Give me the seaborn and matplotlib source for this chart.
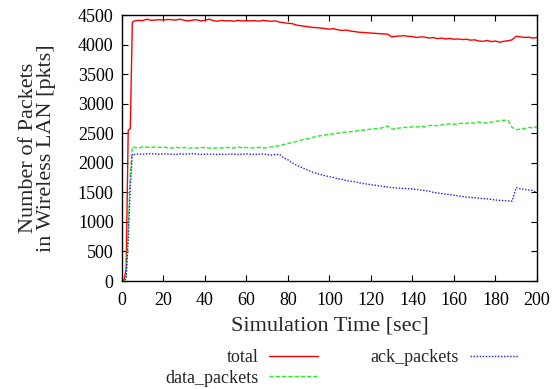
import numpy as np
import pandas as pd
import matplotlib
matplotlib.use("Agg")
import matplotlib.pyplot as plt
import seaborn as sns

# ---------------- data ----------------
time_ramp = [0, 1, 2, 3, 4, 5]
time_main = list(range(6, 201, 2))
times = time_ramp + time_main

total_ramp = [0, 20, 200, 2550, 2580, 4380]
total_main = (
    [4400, 4410, 4405, 4430, 4410, 4415, 4420, 4415]                      # 6-20
    + [4425, 4420, 4415, 4430, 4410, 4400, 4415, 4420, 4400, 4410]        # 22-40
    + [4430, 4405, 4395, 4410, 4400, 4405, 4395, 4410, 4400, 4405]        # 42-60
    + [4400, 4405, 4395, 4410, 4400, 4395, 4400]                          # 62-74
    + [4380, 4370, 4360, 4355, 4330, 4320, 4310, 4300, 4290, 4285, 4280, 4270, 4260]  # 76-100
    + [4270, 4250, 4240, 4245, 4230, 4220, 4210, 4205, 4200, 4195, 4190, 4185, 4180, 4175, 4130]  # 102-130
    + [4140, 4145, 4150, 4140, 4135, 4120, 4130, 4125, 4110, 4120, 4100, 4110, 4095, 4105, 4090]  # 132-160
    + [4095, 4085, 4090, 4075, 4080, 4060, 4055, 4070, 4050, 4060, 4040, 4055, 4065, 4080]        # 162-188
    + [4140, 4130, 4120, 4125, 4110, 4120]                                # 190-200
)

data_ramp = [0, 5, 50, 900, 1800, 2270]
data_main = (
    [2260, 2250, 2270, 2265, 2255, 2270, 2260, 2265]
    + [2255, 2250, 2265, 2250, 2260, 2245, 2255, 2250, 2260, 2255]
    + [2250, 2245, 2255, 2250, 2260, 2255, 2250, 2265, 2255, 2260]
    + [2250, 2255, 2260, 2250, 2255, 2270, 2280]
    + [2290, 2310, 2330, 2340, 2360, 2380, 2400, 2410, 2430, 2450, 2460, 2470, 2480]
    + [2490, 2500, 2510, 2520, 2525, 2530, 2545, 2550, 2560, 2570, 2575, 2580, 2600, 2620, 2570]
    + [2580, 2590, 2600, 2595, 2610, 2605, 2620, 2610, 2630, 2635, 2625, 2640, 2650, 2660, 2650]
    + [2660, 2670, 2665, 2680, 2670, 2690, 2680, 2670, 2690, 2700, 2710, 2720, 2720, 2600]
    + [2560, 2570, 2580, 2600, 2590, 2610]
)

ack_ramp = [0, 5, 40, 700, 1600, 2150]
ack_main = (
    [2140, 2150, 2145, 2150, 2155, 2150, 2145, 2150]
    + [2150, 2145, 2140, 2150, 2145, 2150, 2155, 2150, 2140, 2145]
    + [2150, 2145, 2140, 2145, 2140, 2150, 2145, 2140, 2145, 2150]
    + [2145, 2140, 2145, 2150, 2140, 2130, 2140]
    + [2140, 2080, 2050, 2000, 1960, 1930, 1900, 1870, 1840, 1820, 1800, 1780, 1765]
    + [1750, 1730, 1720, 1700, 1690, 1680, 1665, 1650, 1640, 1630, 1620, 1610, 1600, 1590, 1580]
    + [1575, 1570, 1565, 1560, 1555, 1550, 1540, 1530, 1520, 1500, 1490, 1480, 1470, 1460, 1450]
    + [1440, 1430, 1420, 1415, 1410, 1400, 1395, 1390, 1380, 1370, 1365, 1360, 1355, 1350]
    + [1580, 1560, 1550, 1540, 1530, 1500]
)

total = total_ramp + total_main
data_packets = data_ramp + data_main
ack_packets = ack_ramp + ack_main

x_ticks = [0, 20, 40, 60, 80, 100, 120, 140, 160, 180, 200]
y_ticks = [0, 500, 1000, 1500, 2000, 2500, 3000, 3500, 4000, 4500]

df = pd.DataFrame({"time": times, "total": total,
                   "data_packets": data_packets, "ack_packets": ack_packets})

# ---------------- style ----------------
sns.set_theme(style="ticks")
plt.rcParams["font.family"] = ["Liberation Serif", "DejaVu Serif"]
plt.rcParams["xtick.direction"] = "in"
plt.rcParams["ytick.direction"] = "in"

fig = plt.figure(figsize=(5.53, 3.89), dpi=100)
ax = fig.add_axes([0.2206, 0.2776, 0.7504, 0.6838])

sns.lineplot(data=df, x="time", y="total", ax=ax, color="#ff0000",
             linewidth=1.0, label="total")
sns.lineplot(data=df, x="time", y="data_packets", ax=ax, color="#22ee22",
             linewidth=1.0, label="data_packets")
sns.lineplot(data=df, x="time", y="ack_packets", ax=ax, color="#1a1aff",
             linewidth=1.0, label="ack_packets")
lines = ax.get_lines()
lines[1].set_dashes([3, 1.5])
lines[2].set_dashes([1, 1.2])

ax.set_xlim(0, 200)
ax.set_ylim(0, 4500)
ax.set_xticks(x_ticks)
ax.set_yticks(y_ticks)
ax.tick_params(axis="both", which="both", direction="in", length=4, width=0.8,
               top=True, right=True, labelsize=13, colors="black")
ax.tick_params(axis="x", pad=8)
ax.tick_params(axis="y", pad=6)
for s in ax.spines.values():
    s.set_visible(True)
    s.set_linewidth(1.0)
    s.set_color("black")

ax.set_xlabel("Simulation Time [sec]", fontsize=16, labelpad=5)
ax.set_ylabel("Number of Packets\nin Wireless LAN [pkts]", fontsize=16,
              labelpad=16, linespacing=0.9)

handles, labels = ax.get_legend_handles_labels()
if ax.legend_:
    ax.legend_.remove()
leg = fig.legend(handles, labels, loc="upper center",
                 bbox_to_anchor=(0.618, 0.126), ncol=2, frameon=False,
                 markerfirst=False, fontsize=13, handlelength=2.7,
                 handletextpad=0.6, columnspacing=2.9, labelspacing=0.2,
                 borderpad=0.0)

fig.savefig("out.png", dpi=100)
